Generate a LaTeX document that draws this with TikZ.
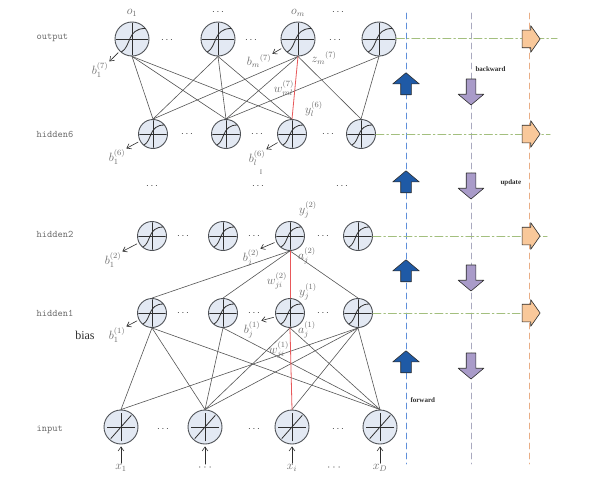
\documentclass[tikz,border=0pt]{standalone}
\usepackage{fontspec}
\setmainfont{Liberation Serif}
\usepackage{xcolor}
\usepackage{tikz}
\usetikzlibrary{arrows.meta,shapes.arrows}
\definecolor{nnFill}{HTML}{E3E9F3}
\definecolor{nnEdge}{HTML}{4F5257}
\definecolor{nnInk}{HTML}{2E2E2E}
\definecolor{nnLine}{HTML}{555555}
\definecolor{nnMuted}{HTML}{6B6B6B}
\definecolor{nnRed}{HTML}{E8585A}
\definecolor{nnBlue}{HTML}{1F5AA6}
\definecolor{nnBlueDash}{HTML}{5F8FDA}
\definecolor{nnPurple}{HTML}{A99BC9}
\definecolor{nnGreyDash}{HTML}{A9A9BF}
\definecolor{nnOrange}{HTML}{F9C89A}
\definecolor{nnOrangeDash}{HTML}{E9AE86}
\definecolor{nnGreen}{HTML}{A3BF7E}
\tikzset{
  nn diagram/.style={line cap=round, line join=round},
  nn unit/.style={circle, draw=nnEdge, fill=nnFill, line width=0.9pt,
    minimum size=29pt, inner sep=0pt},
  nn big unit/.style={nn unit, minimum size=34pt},
  nn glyph/.style={draw=nnInk, line width=0.8pt},
  nn link/.style={draw=nnLine, line width=0.6pt},
  nn key link/.style={draw=nnRed, line width=0.8pt},
  nn bias/.style={-{Straight Barb[length=1.4mm,width=2mm]}, draw=nnInk,
    line width=0.6pt, shorten <=2pt},
  nn feed/.style={-{Straight Barb[length=1.4mm,width=2mm]}, draw=nnInk,
    line width=0.6pt, shorten >=2pt},
  nn math/.style={font=\large, text=nnMuted, inner sep=1pt},
  nn dots/.style={text=nnInk, inner sep=1pt},
  nn layer/.style={font=\ttfamily, text=nnMuted, anchor=west},
  nn tag/.style={font=\bfseries\scriptsize, text=nnInk, anchor=west},
  nn guide/.style={line width=0.9pt, dash pattern=on 6pt off 4pt},
  nn level/.style={draw=nnGreen, line width=1pt,
    dash pattern=on 8pt off 3pt on 1.5pt off 3pt},
  nn up/.style={single arrow, draw=nnInk, fill=nnBlue, line width=0.6pt,
    shape border rotate=90, inner xsep=5pt, inner ysep=0pt,
    minimum height=22pt, single arrow head extend=8pt,
    single arrow tip angle=100},
  nn down/.style={nn up, fill=nnPurple, shape border rotate=270,
    inner xsep=4.5pt, minimum height=26pt},
  nn right/.style={nn up, fill=nnOrange, shape border rotate=0,
    inner xsep=0pt, inner ysep=8.5pt, minimum height=18pt,
    single arrow head extend=4.5pt, single arrow tip angle=110}
}
% activation glyphs drawn inside a unit
\newcommand{\nnsig}[2]{%
  \begin{scope}[shift={(#1.center)},x=#2pt,y=#2pt,nn glyph]
    \draw (-0.92,0) -- (0.92,0);
    \draw (0.02,-0.92) -- (0.02,0.92);
    \draw (-0.62,-0.76) .. controls (-0.05,-0.45) and (-0.3,0.62) .. (0.78,0.62);
  \end{scope}}
\newcommand{\nnlin}[2]{%
  \begin{scope}[shift={(#1.center)},x=#2pt,y=#2pt,nn glyph]
    \draw (-0.8,0) -- (0.8,0);
    \draw (0,-0.8) -- (0,0.8);
    \draw (-0.6,-0.68) -- (0.6,0.68);
  \end{scope}}

\begin{document}
\begin{tikzpicture}[nn diagram,x=1pt,y=-1pt]
\useasboundingbox[fill=white] (0,0) rectangle (605,495);
% vertical guides
\coordinate (fwdtop) at (406,13);
\coordinate (fwdbot) at (406,464);
\coordinate (bwdtop) at (471,13);
\coordinate (bwdbot) at (471,464);
\coordinate (updtop) at (529,13);
\coordinate (updbot) at (529,464);
\draw[nn guide,draw=nnBlueDash] (fwdtop) -- (fwdbot);
\draw[nn guide,draw=nnGreyDash] (bwdtop) -- (bwdbot);
\draw[nn guide,draw=nnOrangeDash] (updtop) -- (updbot);

% units
\foreach \n/\x in {1/132,2/218,3/298,4/379}
  \node[nn big unit] (out\n) at (\x,39) {};
\foreach \n/\x in {1/153,2/226,3/292,4/361}
  \node[nn unit] (hsix\n) at (\x,134) {};
\foreach \n/\x in {1/152,2/223,3/290,4/358}{
  \node[nn unit] (htwo\n) at (\x,236) {};
  \node[nn unit] (hone\n) at (\x,313) {};
}
\foreach \n/\x in {1/121,2/205,3/292,4/380}
  \node[nn big unit] (in\n) at (\x,427) {};
\foreach \u in {out1,out2,out3,out4}{\nnsig{\u}{17}}
\foreach \u in {hsix1,hsix2,hsix3,hsix4,htwo1,htwo2,htwo3,htwo4,hone1,hone2,hone3,hone4}{\nnsig{\u}{14.5}}
\foreach \u in {in1,in2,in3,in4}{\nnlin{\u}{17}}

% layer levels
\coordinate (outend) at (557,39);
\coordinate (hsixend) at (550,134);
\coordinate (htwoend) at (547,236);
\coordinate (honeend) at (520,313);
\draw[nn level] (out4) -- (outend);
\draw[nn level] (hsix4) -- (hsixend);
\draw[nn level] (htwo4) -- (htwoend);
\draw[nn level] (hone4) -- (honeend);

% links
\foreach \a/\b in {1/1,1/2,1/3,2/1,2/2,2/3,3/1,3/2,3/4,4/2,4/4}
  \draw[nn link] (out\a.south) -- (hsix\b.north);
\draw[nn key link] (out3.south) -- (hsix3.north);
\foreach \b in {1,2,4}
  \draw[nn link] (htwo3.south) -- (hone\b.north);
\draw[nn key link] (htwo3.south) -- (hone3.north);
\foreach \a/\b in {1/1,1/2,1/4,2/2,2/4,3/2,3/4,4/1,4/2,4/3,4/4}
  \draw[nn link] (hone\a.south) -- (in\b.north);
\draw[nn key link] (hone3.south) -- (in3.north);

% dots
\foreach \i/\x/\y in {a/218/12,b/338/12,c/167/40,d/251/40,e/335/40,
    f/187/134,g/257/134,h/328/134,i/152/186,j/258/186,k/342/186,
    l/183/236,m/254/236,n/323/236,o/183/313,p/254/313,q/323/313,
    r/163/429,s/254/429,t/338/429}
  \node[nn dots] (dots\i) at (\x,\y) {$\cdots$};

% layer names
\node[nn layer] (lout) at (33,38) {output};
\node[nn layer] (lhsix) at (33,134) {hidden6};
\node[nn layer] (lhtwo) at (33,234) {hidden2};
\node[nn layer] (lhone) at (33,313) {hidden1};
\node[nn layer] (lin) at (33,430) {input};

% unit labels
\node[nn math] (lo1) at (132,13) {$o_1$};
\node[nn math] (lom) at (298,13) {$o_m$};
\node[nn math] (bout1) at (100,70) {$b_1^{(7)}$};
\node[nn math] (boutm) at (259,61) {$b_m{}^{(7)}$};
\node[nn math] (zoutm) at (324,58) {$z_m{}^{(7)}$};
\node[nn math] (wout) at (284,88) {$w_{ml}^{(7)}$};
\node[nn math] (ysix) at (314,109) {$y_l^{(6)}$};
\node[nn math] (bsix1) at (117,157) {$b_1^{(6)}$};
\node[nn math] (bsixl) at (257,158) {$b_l^{(6)}$};
\node[nn math,font=\scriptsize] (tick) at (261,172) {I};
\node[nn math] (ytwo) at (308,210) {$y_j^{(2)}$};
\node[nn math] (btwo1) at (113,260) {$b_1^{(2)}$};
\node[nn math] (btwoj) at (251,258) {$b_j^{(2)}$};
\node[nn math] (atwo) at (307,256) {$a_j^{(2)}$};
\node[nn math] (wtwo) at (277,281) {$w_{ji}^{(2)}$};
\node[nn math] (yone) at (308,292) {$y_j^{(1)}$};
\node[font=\large,text=nnInk] (bias) at (85,335) {bias};
\node[nn math] (bone1) at (117,335) {$b_1^{(1)}$};
\node[nn math] (bonej) at (252,330) {$b_j^{(1)}$};
\node[nn math] (aone) at (307,330) {$a_j^{(1)}$};
\node[nn math] (wone) at (279,350) {$w_{ji}^{(1)}$};

% bias arrows
\draw[nn bias] (out1) -- (bout1.north east);
\draw[nn bias] (out3) -- (boutm.north east);
\draw[nn bias] (hsix1) -- (bsix1.north east);
\draw[nn bias] (hsix3) -- (bsixl.north east);
\draw[nn bias] (htwo1) -- (btwo1.north east);
\draw[nn bias] (htwo3) -- (btwoj.north east);
\draw[nn bias] (hone1) -- (bone1.north east);
\draw[nn bias] (hone3) -- (bonej.north east);

% inputs
\node[nn math] (xin1) at (121,468) {$x_1$};
\node[nn math] (xdots) at (205,468) {$\cdots$};
\node[nn math] (xini) at (292,468) {$x_i$};
\node[nn math] (xdotsb) at (334,468) {$\cdots$};
\node[nn math] (xinD) at (380,468) {$x_D$};
\draw[nn feed] (xin1.north) -- (in1.south);
\draw[nn feed] (xdots.north) -- (in2.south);
\draw[nn feed] (xini.north) -- (in3.south);
\draw[nn feed] (xinD.north) -- (in4.south);

% passes
\foreach \n/\y in {1/86,2/184,3/273,4/364}
  \node[nn up] (fwd\n) at (406,\y) {};
\foreach \n/\y in {1/90,2/184,3/276,4/364}
  \node[nn down] (bwd\n) at (471,\y) {};
\foreach \n/\y in {1/39,2/134,3/236,4/313}
  \node[nn right] (upd\n) at (528,\y) {};
\node[nn tag] (tbwd) at (472,69) {backward};
\node[nn tag] (tupd) at (497,183) {update};
\node[nn tag] (tfwd) at (407,400) {forward};
\end{tikzpicture}
\end{document}
